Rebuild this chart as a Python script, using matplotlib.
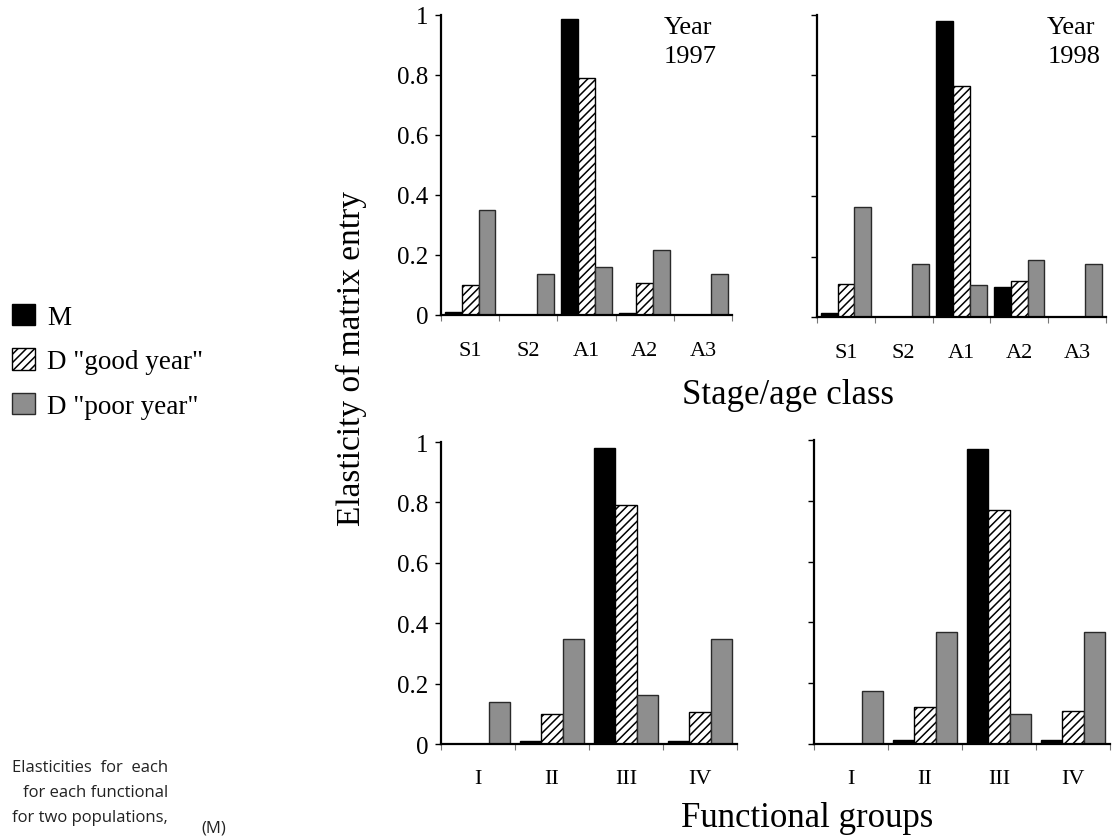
#Importing module to enable visualization capabilities
import matplotlib
matplotlib.use('Agg')
import matplotlib.pyplot as plt
#Importing Numpy to place the bars
import numpy as np

#Data: stage/age classes
stage_classes = ['S1', 'S2', 'A1', 'A2', 'A3']
m_1997 = [0.009, 0.0, 0.985, 0.008, 0.0]
good_1997 = [0.10, 0.0, 0.79, 0.108, 0.0]
poor_1997 = [0.351, 0.136, 0.161, 0.216, 0.136]
m_1998 = [0.014, 0.0, 0.98, 0.10, 0.0]
good_1998 = [0.11, 0.0, 0.765, 0.12, 0.0]
poor_1998 = [0.365, 0.175, 0.105, 0.19, 0.175]

#Data: functional groups
func_groups = ['I', 'II', 'III', 'IV']
fm_1997 = [0.0, 0.01, 0.979, 0.01]
fgood_1997 = [0.0, 0.10, 0.791, 0.107]
fpoor_1997 = [0.138, 0.348, 0.161, 0.348]
fm_1998 = [0.0, 0.013, 0.971, 0.013]
fgood_1998 = [0.0, 0.121, 0.770, 0.107]
fpoor_1998 = [0.173, 0.367, 0.099, 0.367]

series_names = ['M', 'D "good year"', 'D "poor year"']
y_ticks = [0, 0.2, 0.4, 0.6, 0.8, 1]
y_tick_labels = ['0', '0.2', '0.4', '0.6', '0.8', '1']

plt.rcParams['font.family'] = ['Liberation Serif', 'DejaVu Serif']
plt.rcParams['hatch.linewidth'] = 1.1

fig = plt.figure(figsize=(11.12, 8.37), dpi=100)

#Axes placed to match the reference layout
ax_tl = fig.add_axes([0.3966, 0.6225, 0.2617, 0.3584])
ax_tr = fig.add_axes([0.7347, 0.6201, 0.2599, 0.3608])
ax_bl = fig.add_axes([0.3966, 0.1099, 0.2662, 0.3608])
ax_br = fig.add_axes([0.7320, 0.1099, 0.2662, 0.3632])


#Draws one panel of grouped bars
def draw_panel(ax, cats, m, good, poor, show_ylabels, tick_pad):
  x = np.arange(len(cats)) + 0.5
  w = 0.29
  bars_m = ax.bar(x - w, m, w, color='black', edgecolor='black', linewidth=1)
  bars_g = ax.bar(x, good, w, color='white', edgecolor='black', hatch='////', linewidth=1)
  bars_p = ax.bar(x + w, poor, w, color='#8e8e8e', edgecolor='#2a2a2a', linewidth=1)

  ax.set_xlim(0, len(cats))
  ax.set_ylim(0, 1)
  for side in ['top', 'right']:
    ax.spines[side].set_visible(False)
  for side in ['left', 'bottom']:
    ax.spines[side].set_linewidth(1.6)

  #major x ticks at the category borders, labels on minor ticks
  ax.set_xticks(np.arange(len(cats) + 1))
  ax.set_xticklabels([])
  ax.set_xticks(x, minor=True)
  ax.set_xticklabels(cats, minor=True, fontsize=16)
  ax.tick_params(axis='x', which='major', direction='out', length=4, width=0.8, color='#777777')
  ax.tick_params(axis='x', which='minor', length=0, pad=tick_pad)

  ax.set_yticks(y_ticks)
  if show_ylabels:
    ax.set_yticklabels(y_tick_labels, fontsize=18)
  else:
    ax.set_yticklabels([])
  ax.tick_params(axis='y', direction='out', length=4, width=1, pad=5)
  return bars_m, bars_g, bars_p


handles = draw_panel(ax_tl, stage_classes, m_1997, good_1997, poor_1997, True, 19)
draw_panel(ax_tr, stage_classes, m_1998, good_1998, poor_1998, False, 19)
draw_panel(ax_bl, func_groups, fm_1997, fgood_1997, fpoor_1997, True, 18)
draw_panel(ax_br, func_groups, fm_1998, fgood_1998, fpoor_1998, False, 18)

#Year labels in the top panels
ax_tl.text(0.948, 0.995, 'Year\n1997', transform=ax_tl.transAxes, ha='right', va='top',
           multialignment='left', fontsize=19, linespacing=1.4)
ax_tr.text(0.98, 0.995, 'Year\n1998', transform=ax_tr.transAxes, ha='right', va='top',
           multialignment='left', fontsize=19, linespacing=1.4)

#Shared axis titles
fig.text(0.3165, 0.572, 'Elasticity of matrix entry', rotation=90, ha='center', va='center', fontsize=24)
fig.text(0.709, 0.528, 'Stage/age class', ha='center', va='center', fontsize=25)
fig.text(0.726, 0.022, 'Functional groups', ha='center', va='center', fontsize=25)

#Legend on the left side
fig.legend(handles, series_names, loc='upper left', bbox_to_anchor=(0.0108, 0.636),
           frameon=False, fontsize=19.5, handlelength=0.85, handleheight=0.85,
           handletextpad=0.45, labelspacing=0.68, borderpad=0, borderaxespad=0)

#Caption text in the lower left corner
caption_lines = ['Elasticities  for  each', 'for each functional', 'for two populations,']
for i, line in enumerate(caption_lines):
  fig.text(0.151, 0.0825 - i * 0.0299, line, ha='right', va='center', fontsize=12,
           family=['Open Sans', 'DejaVu Sans'], color='#222222')
fig.text(0.192, 0.001, '(M)', ha='center', va='bottom', fontsize=12,
         family=['Open Sans', 'DejaVu Sans'], color='#222222')

fig.savefig('out.png', dpi=100)
